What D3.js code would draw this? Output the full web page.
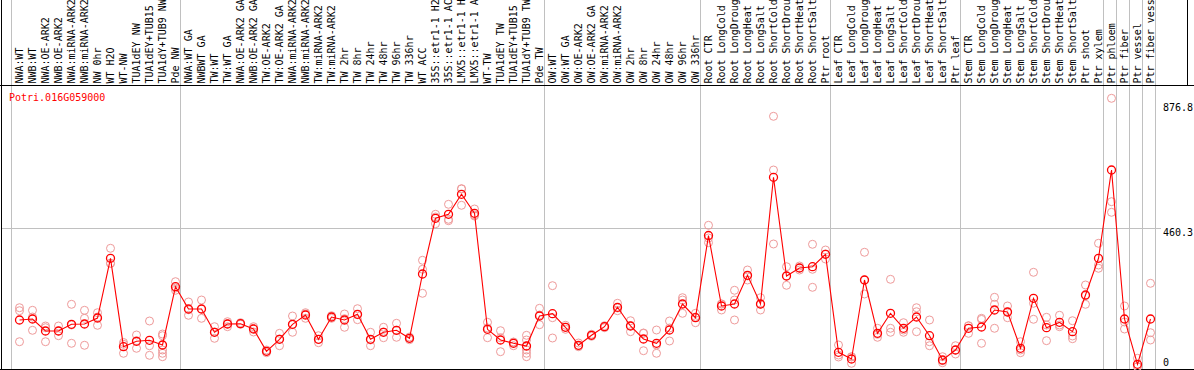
<!DOCTYPE html>
<html><head><meta charset="utf-8">
<script src="https://cdn.jsdelivr.net/npm/d3@7"></script>
<style>body{margin:0;background:#fff}svg{display:block}text{font-family:"DejaVu Sans Mono",monospace;font-size:10px}</style>
</head><body><svg id="c" width="1194" height="370"></svg>
<script>
const title = "Potri.016G059000";
const categories = ["NWA:WT","NWB:WT","NWA:OE-ARK2","NWB:OE-ARK2","NWA:miRNA-ARK2","NWB:miRNA-ARK2","NW 0hr","WT H2O","WT-NW","TUA1dEY NW","TUA1dEY+TUB15 NW","TUA1dY+TUB9 NW","Pde NW",
"NWA:WT GA","NWBWT GA","TW:WT","TW:WT GA","NWA:OE-ARK2 GA","NWB:OE-ARK2 GA","TW:OE-ARK2","TW:OE-ARK2 GA","NWA:miRNA-ARK2 GA","NWB:miRNA-ARK2 GA","TW:miRNA-ARK2","TW:miRNA-ARK2 GA","TW 2hr","TW 8hr","TW 24hr","TW 48hr","TW 96hr","TW 336hr","WT ACC","35S::etr1-1 H2O","35S::etr1-1 ACC","LMX5::etr1-1 H2O","LMX5::etr1-1 ACC","WT-TW","TUA1dEY TW","TUA1dEY+TUB15 TW","TUA1dY+TUB9 TW","Pde TW",
"OW:WT","OW:WT GA","OW:OE-ARK2","OW:OE-ARK2 GA","OW:miRNA-ARK2","OW:miRNA-ARK2 GA","OW 2hr","OW 8hr","OW 24hr","OW 48hr","OW 96hr","OW 336hr",
"Root CTR","Root LongCold","Root LongDrought","Root LongHeat","Root LongSalt","Root ShortCold","Root ShortDrought","Root ShortHeat","Root ShortSalt","Ptr root",
"Leaf CTR","Leaf LongCold","Leaf LongDrought","Leaf LongHeat","Leaf LongSalt","Leaf ShortCold","Leaf ShortDrought","Leaf ShortHeat","Leaf ShortSalt","Ptr leaf",
"Stem CTR","Stem LongCold","Stem LongDrought","Stem LongHeat","Stem LongSalt","Stem ShortCold","Stem ShortDrought","Stem ShortHeat","Stem ShortSalt","Ptr shoot","Ptr xylem",
"Ptr phloem","Ptr fiber","Ptr vessel","Ptr fiber vessel"];
// first category of each group (group separators)
const groupStarts = ["NWA:WT","NWA:WT GA","OW:WT","Root CTR","Leaf CTR","Stem CTR","Ptr phloem","Ptr fiber","Ptr vessel","Ptr fiber vessel"];
const means = [155.6,158.9,119.0,119.0,141.3,142.3,162.2,360.6,66.8,84.8,88.1,72.5,266.2,
192.1,192.1,114.7,142.3,143.3,125.6,51.5,91.4,141.3,172.2,91.4,165.5,155.6,174.5,91.4,114.7,121.3,94.7,308.4,493.6,506.9,573.4,510.2,124.6,89.1,78.1,69.1,168.8,
176.5,131.3,71.5,104.7,133.3,197.8,135.6,92.4,78.1,122.3,208.7,163.2,
436.4,202.1,208.7,304.1,208.7,629.9,301.8,328.4,332.7,373.9,
48.2,25.9,288.5,111.3,177.8,128.0,165.5,103.4,22.6,55.8,
128.0,132.3,188.8,182.1,61.5,227.7,130.0,147.9,116.7,238.6,360.6,
654.1,158.9,8.3,158.9];
const replicates = [
[196.4,186.5,83.4],[187.8,165.5,121.3],[135.6,130.0,83.4],[135.6,119.0,103.4],[207.7,138.9,78.1],[187.8,161.2,71.5],[179.8,165.5,137.9],[393.9,344.0,344.0],[80.8,74.8,44.9],[105.7,86.8,61.5],[152.2,70.1,38.2],[109.0,103.4,72.5,55.8,44.9,33.6],[282.9,261.9,254.3],
[215.4,189.8,171.2],[222.0,192.1,161.2],[133.3,115.7,94.7],[149.9,143.3,133.3],[146.6,143.3,141.3],[133.3,128.0,115.7],[55.8,51.5,46.9],[111.3,92.4,70.1],[168.8,139.9,114.7],[179.8,175.5,161.2],[103.4,90.7,80.1],[169.8,165.5,161.2],[175.5,159.9,131.3],[193.1,173.2,156.6],[114.7,89.1,70.1],[131.3,115.7,96.7],[144.6,121.3,98.1],[99.0,94.7,90.1],[354.0,324.1,244.3],[506.9,497.9,475.6],[540.1,490.3,485.6],[592.0,591.0,536.8],[524.5,504.6,501.2],[147.9,129.0,96.7],[120.0,96.7,50.2],[82.4,81.4,70.1],[104.7,89.1,69.1,55.8,44.9,33.6],[194.4,172.2,139.9],
[269.6,163.2,95.7],[137.9,131.3,124.6],[79.1,69.1,66.8],[108.0,104.7,101.4],[136.6,133.3,130.0],[211.1,195.4,186.5],[153.2,136.6,116.7],[111.3,112.3,53.5],[122.3,72.5,44.9],[152.2,129.0,85.8],[229.7,222.0,177.8],[177.8,165.5,146.6],
[470.3,428.1,412.5],[208.7,208.7,188.8],[254.3,222.0,155.6],[321.7,301.8,288.5],[229.7,207.7,188.8],[832.6,654.1,408.2],[332.7,301.8,270.9],[335.0,328.4,321.7],[407.2,324.1,264.2],[388.2,374.9,358.3],
[72.5,39.2,32.6],[33.6,32.6,11.6],[380.6,288.5,242.0],[128.0,108.0,98.1],[290.8,128.0,114.7],[146.6,122.3,114.7],[196.4,183.1,116.7],[155.6,83.4,70.1],[33.6,20.3,13.6],[70.1,55.8,42.5],
[136.6,135.6,111.3],[161.2,157.5,78.1],[231.0,207.7,128.0],[202.1,182.1,163.2],[83.4,55.8,46.9],[314.1,211.1,157.9],[164.5,138.9,86.8],[171.2,138.9,133.3],[153.2,102.4,93.4],[271.9,236.3,207.7],[410.5,338.4,327.4],
[892.4,548.8,513.5],[202.1,148.9,125.6],[28.3,0.3,0.3],[277.5,113.3,89.1]];
const tickValues = [876.8, 460.3, 0];
const tickLabels = ["876.8","460.3","0"];
const gridValues = [460.3];

const svg = d3.select("#c");
const x = d3.scaleBand().domain(categories).range([11, 11 + 13*categories.length]).padding(0);
const cx = c => x(c) + 8.5;
const y = d3.scaleLinear().domain([0, 876.8]).range([366.8, 103.0]);
const plotRight = x.range()[1];

// vertical group gridlines
const gx = groupStarts.map(c => x(c)).concat([plotRight]);
svg.selectAll("line.vg").data(gx).enter().append("line")
  .attr("x1", d => d + 0.5).attr("x2", d => d + 0.5).attr("y1", 0).attr("y2", 369)
  .attr("stroke", "#c0c0c0").attr("stroke-width", 1).attr("shape-rendering", "crispEdges");
// horizontal gridline
svg.selectAll("line.hg").data(gridValues).enter().append("line")
  .attr("x1", 2).attr("x2", 1161).attr("y1", d => Math.round(y(d)) + 0.5).attr("y2", d => Math.round(y(d)) + 0.5)
  .attr("stroke", "#c0c0c0").attr("stroke-width", 1).attr("shape-rendering", "crispEdges");

// borders
const border = [[0,85.5,1194,85.5],[1.5,0,1.5,370],[0,369.5,1194,369.5],[1187.5,0,1187.5,85]];
svg.selectAll("line.b").data(border).enter().append("line")
  .attr("x1", d => d[0]).attr("y1", d => d[1]).attr("x2", d => d[2]).attr("y2", d => d[3])
  .attr("stroke", "#000").attr("stroke-width", 1).attr("shape-rendering", "crispEdges");

// header labels
svg.selectAll("text.cat").data(categories).enter().append("text")
  .attr("transform", d => `translate(${cx(d) + 3},83.5) rotate(-90)`)
  .attr("fill", "#000").text(d => d);

// title
svg.append("text").attr("x", 9).attr("y", 101).attr("fill", "#ff0000").text(title);

// y tick labels
svg.selectAll("text.yt").data(tickValues).enter().append("text")
  .attr("x", 1163).attr("y", d => Math.min(y(d) + 8, 366)).attr("fill", "#000")
  .text((d, i) => tickLabels[i]);

// replicates
const reps = [];
categories.forEach((c, i) => replicates[i].forEach(v => reps.push({c, v})));
svg.selectAll("circle.rep").data(reps).enter().append("circle")
  .attr("cx", d => cx(d.c)).attr("cy", d => y(d.v)).attr("r", 4)
  .attr("fill", "none").attr("stroke", "#ee9a9a").attr("stroke-width", 1);

// mean line
const line = d3.line().x((d, i) => cx(categories[i])).y(d => y(d));
svg.append("path").datum(means).attr("d", line).attr("fill", "none")
  .attr("stroke", "#ff0000").attr("stroke-width", 1.1);

// mean circles
svg.selectAll("circle.mean").data(means).enter().append("circle")
  .attr("cx", (d, i) => cx(categories[i])).attr("cy", d => y(d)).attr("r", 4)
  .attr("fill", "none").attr("stroke", "#ff0000").attr("stroke-width", 1.3);
</script></body></html>
